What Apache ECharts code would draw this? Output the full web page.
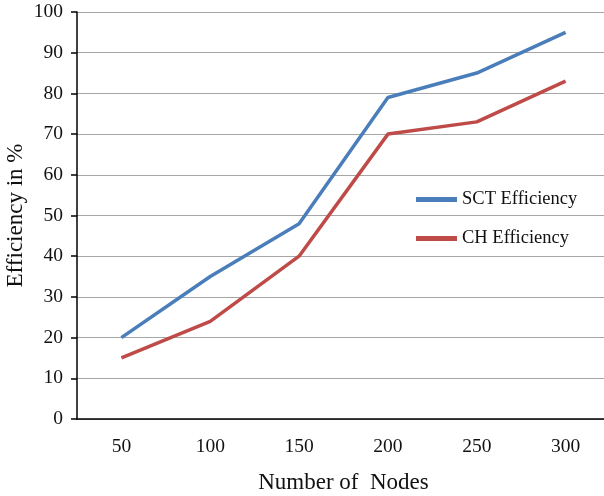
<!DOCTYPE html>
<html>
<head>
<meta charset="utf-8">
<script src="https://cdn.jsdelivr.net/npm/echarts@6/dist/echarts.min.js"></script>
<style>
  html, body { margin: 0; padding: 0; background: #fff; }
  #chart { width: 604px; height: 496px; }
</style>
</head>
<body>
<div id="chart"></div>
<script>
const nodes = ["50", "100", "150", "200", "250", "300"];
const sctEfficiency = [20, 35, 48, 79, 85, 95];
const chEfficiency = [15, 24, 40, 70, 73, 83];

const serif = "Liberation Serif";
const chart = echarts.init(document.getElementById("chart"));

const option = {
  animation: false,
  textStyle: { fontFamily: serif },
  grid: { left: 77, top: 12, right: -6, bottom: 77, outerBoundsMode: "none" },
  legend: {
    orient: "vertical",
    left: 416,
    top: 190,
    padding: 0,
    itemWidth: 41,
    itemHeight: 5,
    itemGap: 20,
    icon: "rect",
    textStyle: { fontFamily: serif, fontSize: 18.5, color: "#111" },
    data: ["SCT Efficiency", "CH Efficiency"],
  },
  xAxis: {
    type: "category",
    data: nodes,
    boundaryGap: true,
    name: "Number of  Nodes",
    nameLocation: "middle",
    nameGap: 52,
    nameMoveOverlap: false,
    nameTextStyle: { fontFamily: serif, fontSize: 23, color: "#111" },
    axisLine: { lineStyle: { color: "#000", width: 1.5 } },
    axisTick: { length: 6, lineStyle: { color: "#000", width: 1.5 } },
    axisLabel: { fontFamily: serif, fontSize: 19.5, color: "#111", margin: 18 },
    splitLine: { show: false },
  },
  yAxis: {
    type: "value",
    min: 0,
    max: 100,
    interval: 10,
    name: "Efficiency in %",
    nameLocation: "middle",
    nameGap: 50,
    nameMoveOverlap: false,
    nameTextStyle: { fontFamily: serif, fontSize: 23, color: "#111" },
    axisLine: { show: true, lineStyle: { color: "#000", width: 1.5 } },
    axisTick: { show: true, length: 6, lineStyle: { color: "#000", width: 1.5 } },
    axisLabel: { fontFamily: serif, fontSize: 19.5, color: "#111", margin: 14 },
    splitLine: { lineStyle: { color: "#a6a6a6", width: 1.2 } },
  },
  series: [
    {
      name: "SCT Efficiency",
      type: "line",
      data: sctEfficiency,
      symbol: "none",
      lineStyle: { color: "#4a7ebb", width: 3.5 },
      itemStyle: { color: "#4a7ebb" },
    },
    {
      name: "CH Efficiency",
      type: "line",
      data: chEfficiency,
      symbol: "none",
      lineStyle: { color: "#be4b48", width: 3.5 },
      itemStyle: { color: "#be4b48" },
    },
  ],
};

chart.setOption(option);
</script>
</body>
</html>
